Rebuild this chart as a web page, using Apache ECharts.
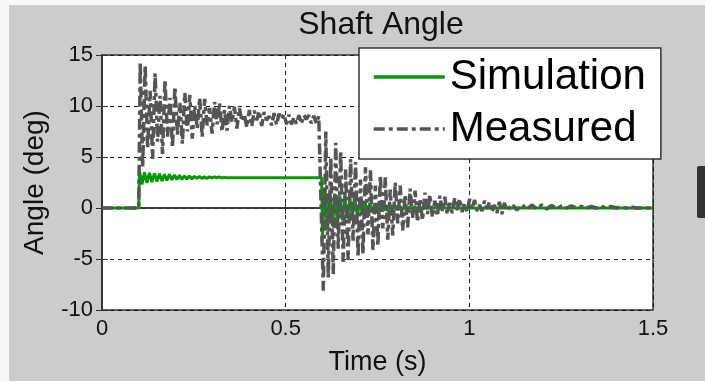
<!DOCTYPE html>
<html>
<head>
<meta charset="utf-8">
<script src="https://cdn.jsdelivr.net/npm/echarts@6/dist/echarts.min.js"></script>
<style>
  html, body { margin: 0; padding: 0; background: #f8f8f8; }
  #chart { width: 705px; height: 381px; }
</style>
</head>
<body>
<div id="chart"></div>
<script>
// Shaft Angle - simulación vs medido

const xTicks = [0, 0.5, 1, 1.5];
const yTicks = [-10, -5, 0, 5, 10, 15];
const seriesNames = ["Simulation", "Measured"];

// Simulación (grados)
const simBefore = [[0, 0], [0.1, 0]];
const simRippleStart = 0.102;
const simRippleDt = 0.0068;
const simRipple = [
  3.6, 2.3, 3.5, 2.45, 3.45, 2.55, 3.4, 2.6, 3.35, 2.65,
  3.3, 2.7, 3.3, 2.75, 3.25, 2.8, 3.2, 2.8, 3.15, 2.85,
  3.15, 2.85, 3.1, 2.9, 3.1, 2.9, 3.05, 2.9, 3.05, 2.95,
  3.05, 2.95, 3.05, 2.95, 3.0
];
const simHold = [[0.34, 2.97], [0.598, 2.97]];
const simDecayStart = 0.6;
const simDecayDt = 0.0068;
const simDecay = [
  -2.7, 2.0, -2.2, 1.6, -1.8, 1.4, -1.5, 1.2, -1.2, 1.0,
  -1.0, 0.9, -0.8, 0.8, -0.7, 0.7, -0.6, 0.6, -0.5, 0.5,
  -0.45, 0.45, -0.4, 0.4, -0.35, 0.35, -0.3, 0.3, -0.25, 0.25,
  -0.2, 0.2, -0.2, 0.2, -0.15, 0.15, -0.15, 0.15, -0.1, 0.1,
  -0.1, 0.1
];
const simAfter = [[0.89, 0], [1.5, 0]];

const measBefore = [[0, 0], [0.1, 0]];
const measStepStart = 0.104;
const measStepDt = 0.00675;
const measStep = [
  14.3, 4.0, 14.0, 5.8, 11.5, 4.8, 13.2, 6.5, 11.0, 5.3,
  12.6, 7.0, 10.8, 5.9, 11.9, 7.2, 10.3, 6.3, 11.3, 7.5,
  11.1, 6.8, 10.0, 7.8, 10.8, 7.0, 10.7, 8.1, 9.8, 7.3,
  10.4, 8.2, 10.3, 7.5, 9.6, 7.6, 10.0, 8.4, 9.9, 7.8,
  9.8, 8.5, 9.2, 7.9, 9.6, 8.0, 9.55, 8.6, 9.5, 8.05,
  9.4, 8.6, 9.0, 8.1, 9.3, 8.15, 9.25, 8.7, 9.2, 8.2,
  9.15, 8.2, 8.9, 8.25, 9.1, 8.25, 9.1, 8.7, 9.1, 8.3,
  9.05, 8.3, 9.0
];
const measDecayStart = 0.6025;
const measDecayDt = 0.00675;
const measDecay = [
  -8.1, 7.5, -6.8, 5.0, -6.5, 6.4, -4.0, 5.6, -5.3, 3.8,
  -5.1, 4.8, -3.2, 4.5, -4.8, 2.8, -4.5, 4.0, -2.6, 3.7,
  -4.1, 2.2, -3.7, 3.2, -2.0, 3.0, -3.1, 1.8, -2.7, 2.5,
  -1.5, 2.2, -2.2, 1.3, -1.9, 1.9, -1.0, 1.7, -1.4, 0.9,
  -1.2, 1.5, -0.6, 1.3, -0.9, 0.7, -0.8, 1.2, -0.3, 1.1,
  -0.6, 0.5, -0.5, 1.0, -0.2, 0.9, -0.4, 0.4, -0.35, 0.9,
  -0.1, 0.8, -0.3, 0.3, -0.3, 0.7, -0.1, 0.6, -0.4, 0.3,
  -0.5, 0.6, -0.6, 0.5
];
const measTailStart = 1.1025;
const measTailDt = 0.0135;
const measTail = [
  -0.3, 0.4, -0.2, 0.35, -0.15, 0.3, -0.1, 0.3, -0.1, 0.25,
  -0.05, 0.2, 0, 0.2, 0, 0.15, 0, 0.15, 0, 0.15,
  0, 0.15, 0, 0.1, 0, 0.1, 0
];
const measAfter = [[1.5, 0]];

// Puntos muestreados a paso fijo
function sampled(start, dt, values) {
  return values.map((v, i) => [+(start + i * dt).toFixed(5), v]);
}

const simData = [].concat(
  simBefore,
  sampled(simRippleStart, simRippleDt, simRipple),
  simHold,
  sampled(simDecayStart, simDecayDt, simDecay),
  simAfter
);
const measData = [].concat(
  measBefore,
  sampled(measStepStart, measStepDt, measStep),
  sampled(measDecayStart, measDecayDt, measDecay),
  sampled(measTailStart, measTailDt, measTail),
  measAfter
);

const font = "'Liberation Sans', Arial, sans-serif";
const textColor = "#111";

const chart = echarts.init(document.getElementById("chart"));

const axisBase = {
  type: "value",
  axisLine: { show: true, lineStyle: { color: "#333", width: 1.5 } },
  axisTick: { show: true, inside: true, length: 6, lineStyle: { color: "#333", width: 1 } },
};

chart.setOption({
  animation: false,
  backgroundColor: "#cccccc",
  textStyle: { fontFamily: font },
  graphic: {
    elements: [
      { type: "rect", left: 0, top: 0, shape: { width: 705, height: 5 }, style: { fill: "#f8f8f8" } },
      { type: "rect", left: 0, top: 0, shape: { width: 9, height: 381 }, style: { fill: "#f8f8f8" } },
      { type: "rect", left: 697, top: 166, shape: { width: 10, height: 52, r: 2 }, style: { fill: "#333" } },
    ],
  },
  title: {
    text: "Shaft Angle",
    left: 376,
    top: 4,
    textAlign: "center",
    textStyle: { fontFamily: font, fontSize: 32, fontWeight: "normal", color: textColor },
  },
  legend: {
    data: seriesNames,
    orient: "vertical",
    left: 359,
    top: 48,
    padding: [6, 15, 7, 13],
    itemGap: 6,
    itemWidth: 71,
    itemHeight: 14,
    backgroundColor: "#fff",
    borderColor: "#333",
    borderWidth: 1.5,
    borderRadius: 0,
    itemStyle: { opacity: 0 },
    lineStyle: { width: 3.5 },
    textStyle: { fontFamily: font, fontSize: 42, color: "#000", lineHeight: 46 },
  },
  grid: {
    left: 102,
    right: 52,
    top: 55,
    bottom: 69,
    show: true,
    backgroundColor: "#fff",
    borderColor: "#333",
    borderWidth: 1.5,
  },
  xAxis: [
    Object.assign({}, axisBase, {
      min: xTicks[0],
      max: xTicks[xTicks.length - 1],
      interval: 0.5,
      name: "Time (s)",
      nameLocation: "middle",
      nameGap: 39,
      nameTextStyle: { fontFamily: font, fontSize: 27, color: textColor },
      axisLabel: { fontFamily: font, fontSize: 22, color: textColor, margin: 8 },
      splitLine: { show: true, lineStyle: { color: "#1a1a1a", width: 1, type: [4, 4] } },
    }),
    Object.assign({}, axisBase, {
      position: "top",
      min: xTicks[0],
      max: xTicks[xTicks.length - 1],
      interval: 0.5,
      axisLabel: { show: false },
      splitLine: { show: false },
    }),
  ],
  yAxis: [
    Object.assign({}, axisBase, {
      min: yTicks[0],
      max: yTicks[yTicks.length - 1],
      interval: 5,
      name: "Angle (deg)",
      nameLocation: "middle",
      nameGap: 53,
      nameTextStyle: { fontFamily: font, fontSize: 28, color: textColor },
      axisLabel: { fontFamily: font, fontSize: 22, color: textColor, margin: 9 },
      splitLine: { show: true, lineStyle: { color: "#1a1a1a", width: 1, type: [4, 4] } },
    }),
    Object.assign({}, axisBase, {
      position: "right",
      min: yTicks[0],
      max: yTicks[yTicks.length - 1],
      interval: 5,
      axisLabel: { show: false },
      splitLine: { show: false },
    }),
  ],
  series: [
    {
      name: seriesNames[0],
      type: "line",
      data: simData,
      symbol: "none",
      lineStyle: { color: "#009a00", width: 3 },
      itemStyle: { color: "#009a00" },
    },
    {
      name: seriesNames[1],
      type: "line",
      data: measData,
      symbol: "none",
      lineStyle: { color: "#555555", width: 3.5, type: [11, 4, 4, 4] },
      itemStyle: { color: "#555555" },
    },
  ],
});
</script>
</body>
</html>
